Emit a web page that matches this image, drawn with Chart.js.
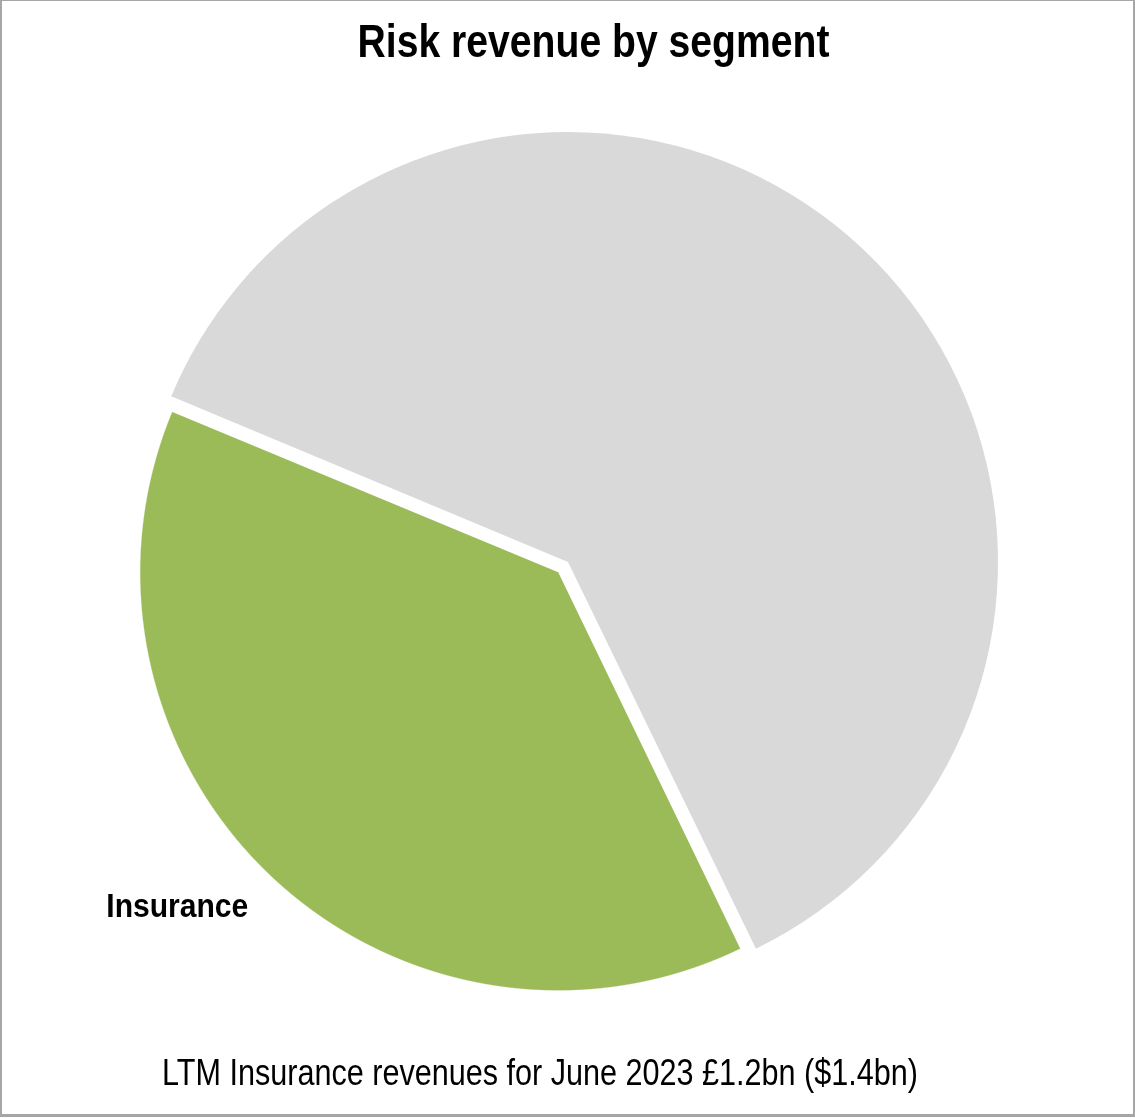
<!DOCTYPE html>
<html>
<head>
<meta charset="utf-8">
<title>Risk revenue by segment</title>
<script src="https://cdn.jsdelivr.net/npm/chart.js@4.4.0/dist/chart.umd.min.js"></script>
<style>
  html, body { margin: 0; padding: 0; background: #ffffff; }
  #chart { position: absolute; left: 0; top: 0; }
  #frame {
    position: absolute; left: 0; top: 0;
    width: 1135px; height: 1117px; box-sizing: border-box;
    border-style: solid; border-color: #a6a6a6;
    border-width: 1px 2px 3px 2px;
    pointer-events: none;
  }
</style>
</head>
<body>
<canvas id="chart" width="1135" height="1118"></canvas>
<div id="frame"></div>
<script>
// Segment shares of Risk revenue (%), clockwise from 12 o'clock
const categories = ['Other', 'Insurance', 'Other'];
const shares = [42.8, 38.5, 18.7];
const sliceColors = ['#D9D9D9', '#9BBB59', '#D9D9D9'];
const labelledSlice = 1;

const chartTitle = 'Risk revenue by segment';
const footnote = 'LTM Insurance revenues for June 2023 £1.2bn ($1.4bn)';

const PIE_RADIUS = 430;
const EXPLODED_RADIUS = 418;   // visible radius of the pulled-out slice

// Condensed text: draw at a given size, then squeeze to the wanted width
function drawCondensed(ctx, text, cx, baseline, font, width) {
  ctx.save();
  ctx.font = font;
  const w = ctx.measureText(text).width;
  ctx.translate(cx, baseline);
  ctx.scale(width / w, 1);
  ctx.textAlign = 'center';
  ctx.textBaseline = 'alphabetic';
  ctx.fillText(text, 0, 0);
  ctx.restore();
}

// Title, footnote and the outside label of the highlighted slice
const textPlugin = {
  id: 'chartTexts',
  afterDraw(chart) {
    const ctx = chart.ctx;
    ctx.save();
    ctx.fillStyle = '#000000';
    drawCondensed(ctx, chartTitle, 593.5, 57, 'bold 46px "Liberation Sans", Arial, sans-serif', 472);
    drawCondensed(ctx, footnote, 540, 1085, '36px "Liberation Sans", Arial, sans-serif', 756);

    const arc = chart.getDatasetMeta(0).data[labelledSlice];
    const angle = (arc.startAngle + arc.endAngle) / 2 + 5.4 * Math.PI / 180;
    const dist = arc.outerRadius * 1.208;
    drawCondensed(ctx, categories[labelledSlice],
      arc.x + Math.cos(angle) * dist,
      arc.y + Math.sin(angle) * dist + 13,
      'bold 33px "Liberation Sans", Arial, sans-serif', 142);
    ctx.restore();
  }
};

// The pulled-out slice is painted with a radial fill that stops short of the rim
function sliceFill(context) {
  const i = context.dataIndex;
  const base = sliceColors[i];
  const chart = context.chart;
  const area = chart.chartArea;
  if (i !== labelledSlice || !area) return base;
  const cx = (area.left + area.right) / 2;
  const cy = (area.top + area.bottom) / 2;
  const outer = PIE_RADIUS + 20;
  const g = chart.ctx.createRadialGradient(cx, cy, 0, cx, cy, outer);
  g.addColorStop(0, base);
  g.addColorStop((EXPLODED_RADIUS - 0.6) / outer, base);
  g.addColorStop((EXPLODED_RADIUS + 0.6) / outer, 'rgba(155,187,89,0)');
  g.addColorStop(1, 'rgba(155,187,89,0)');
  return g;
}

new Chart(document.getElementById('chart'), {
  type: 'pie',
  data: {
    labels: categories,
    datasets: [{
      data: shares,
      backgroundColor: sliceFill,
      borderWidth: 0,
      offset: [0, 57, 0]
    }]
  },
  options: {
    responsive: false,
    animation: false,
    devicePixelRatio: 1,
    radius: PIE_RADIUS,
    layout: { padding: { left: 100, right: 99, top: 100, bottom: 94 } },
    plugins: {
      legend: { display: false },
      title: { display: false },
      tooltip: { enabled: false }
    }
  },
  plugins: [textPlugin]
});
</script>
</body>
</html>
